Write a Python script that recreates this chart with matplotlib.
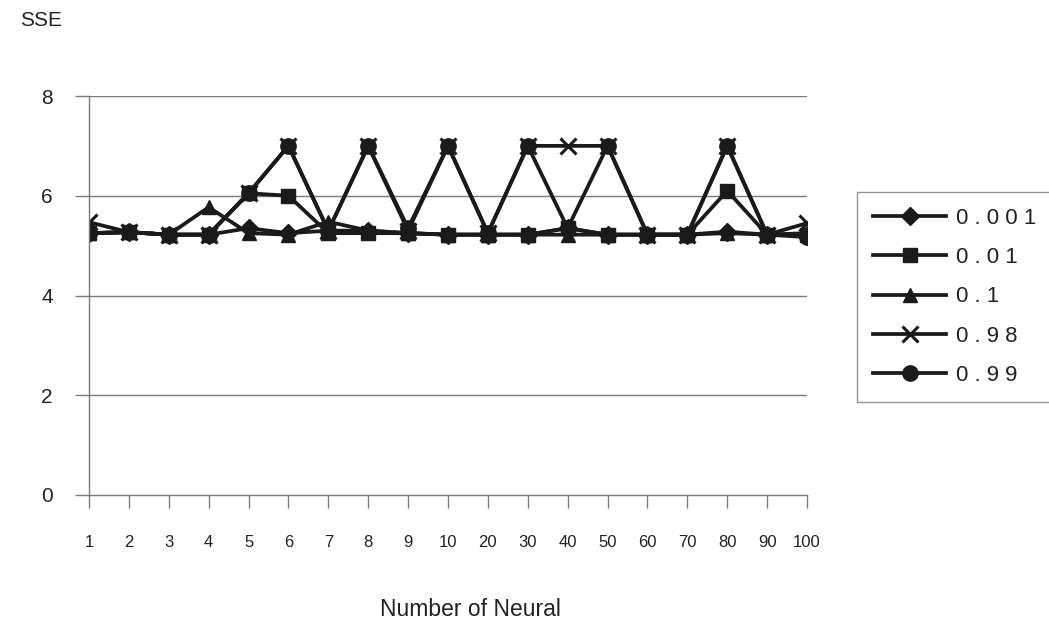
import matplotlib
matplotlib.use('Agg')
from matplotlib import pyplot as plt

# Number of neurons (categories on the x axis)
neurons = ['1', '2', '3', '4', '5', '6', '7', '8', '9', '10',
           '20', '30', '40', '50', '60', '70', '80', '90', '100']

# SSE per learning rate
sse_0001 = [5.25, 5.27, 5.22, 5.22, 5.35, 5.25, 5.30, 5.30, 5.25, 5.22,
            5.22, 5.22, 5.35, 5.22, 5.22, 5.22, 5.28, 5.22, 5.20]
sse_001 = [5.25, 5.27, 5.22, 5.22, 6.05, 6.00, 5.25, 5.25, 5.25, 5.22,
           5.22, 5.22, 5.35, 5.22, 5.22, 5.22, 6.10, 5.22, 5.22]
sse_01 = [5.25, 5.27, 5.22, 5.77, 5.25, 5.22, 5.48, 5.30, 5.25, 5.22,
          5.22, 5.22, 5.22, 5.22, 5.22, 5.22, 5.25, 5.22, 5.25]
sse_098 = [5.47, 5.27, 5.22, 5.22, 6.05, 7.00, 5.30, 7.00, 5.30, 7.00,
           5.25, 7.00, 7.00, 7.00, 5.22, 5.22, 7.00, 5.22, 5.45]
sse_099 = [5.25, 5.27, 5.22, 5.22, 6.05, 7.00, 5.30, 7.00, 5.35, 7.00,
           5.25, 7.00, 5.35, 7.00, 5.22, 5.22, 7.00, 5.22, 5.17]

labels = ['0 . 0 0 1', '0 . 0 1', '0 . 1', '0 . 9 8', '0 . 9 9']
series = [sse_0001, sse_001, sse_01, sse_098, sse_099]
markers = ['D', 's', '^', 'x', 'o']
msizes = [9, 10.5, 10, 12, 11]

plt.rcParams['font.family'] = ['Liberation Sans', 'DejaVu Sans']

fig = plt.figure(figsize=(10.49, 6.24), dpi=100)
ax = fig.add_axes([89 / 1049, 1 - 495 / 624, (807 - 89) / 1049, (495 - 96) / 624])

x = list(range(len(neurons)))
for vals, lab, mk, ms in zip(series, labels, markers, msizes):
    ax.plot(x, vals, color='#1a1a1a', linewidth=2.7, marker=mk, markersize=ms,
            markeredgewidth=2.2 if mk == 'x' else 1, markerfacecolor='#1a1a1a',
            markeredgecolor='#1a1a1a', label=lab)

ax.set_xlim(0, len(neurons) - 1)
ax.set_ylim(0, 8)
ax.set_yticks([0, 2, 4, 6, 8])
ax.set_xticks(x)
ax.set_xticklabels(neurons)

# Horizontal grid lines only
for yv in [2, 4, 6, 8]:
    ax.axhline(yv, color='#7a7a7a', linewidth=1, zorder=0)

for side in ['top', 'right']:
    ax.spines[side].set_visible(False)
for side in ['left', 'bottom']:
    ax.spines[side].set_color('#7a7a7a')
    ax.spines[side].set_linewidth(1)

ax.tick_params(axis='y', length=10, width=1, color='#7a7a7a', pad=16, labelsize=15,
               labelcolor='#222222')
ax.tick_params(axis='x', length=9, width=1, color='#7a7a7a', pad=20, labelsize=12,
               labelcolor='#222222')

fig.text(20 / 1049, 1 - 21 / 624, 'SSE', fontsize=15, color='#222222', va='center')
fig.text(470 / 1049, 1 - 610 / 624, 'Number of Neural', fontsize=16.5, color='#222222',
         ha='center', va='center')

leg = fig.legend(loc='upper left', bbox_to_anchor=(857 / 1049, 1 - 192 / 624),
                 borderaxespad=0, frameon=True, fancybox=False, fontsize=16,
                 handlelength=3.3, labelspacing=0.82, borderpad=0.72, handletextpad=0.45)
leg.get_frame().set_edgecolor('#7a7a7a')
leg.get_frame().set_linewidth(1)
for t in leg.get_texts():
    t.set_color('#222222')

fig.savefig('out.png', dpi=100)
